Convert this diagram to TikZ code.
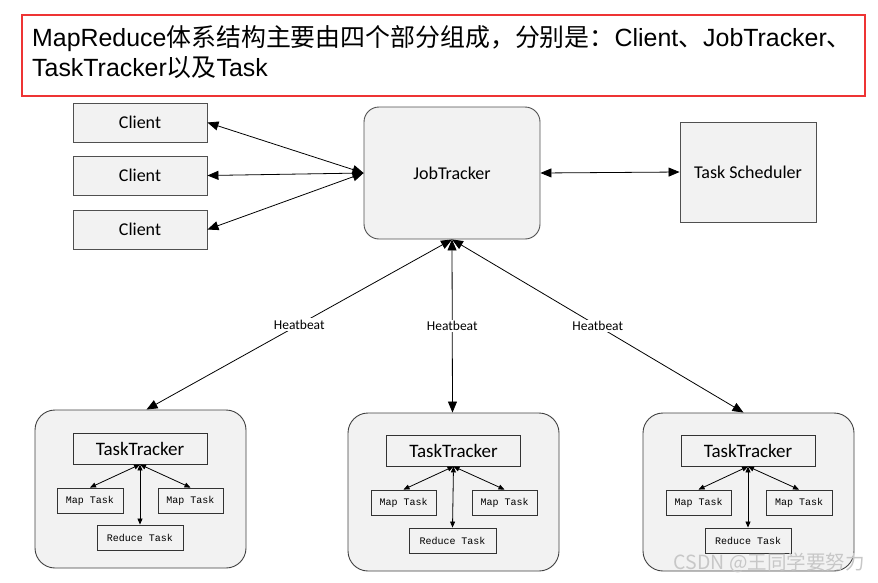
\documentclass[tikz,border=0pt]{standalone}
\usepackage{fontspec}
\setmainfont{Carlito}
\newfontfamily\headfont{Liberation Sans}
\newfontfamily\cjk{Noto Sans CJK SC}
\newfontfamily\taskfont{Liberation Mono}
\usetikzlibrary{arrows.meta}
\definecolor{boxfill}{RGB}{242,242,242}
\definecolor{headred}{RGB}{238,52,52}
\definecolor{edgegray}{RGB}{80,80,80}
\newcommand{\hf}[1]{{\cjk #1}}

\begin{document}
\begin{tikzpicture}[x=1pt,y=-1pt,
  headline/.style={anchor=base west,inner sep=0,font=\headfont\fontsize{24.9}{25}\selectfont},
  plainbox/.style={draw=edgegray,fill=boxfill,inner sep=0,line width=0.9pt,font=\fontsize{18}{18}\selectfont},
  outerbox/.style={draw=black!75,fill=boxfill,rounded corners=20,line width=0.9pt,minimum width=211,minimum height=158},
  trackbox/.style={draw=black!80,fill=boxfill,inner sep=0,line width=0.9pt,minimum width=134,minimum height=31,font=\fontsize{19}{19}\selectfont},
  taskbox/.style={draw=black!80,fill=boxfill,inner sep=0,line width=0.9pt,minimum height=25,font=\taskfont\fontsize{10}{10}\selectfont},
  beat/.style={midway,fill=white,inner sep=1.5,font=\fontsize{13.5}{13.5}\selectfont},
  big/.style={line width=0.8pt,{Triangle[length=11,width=9]}-{Triangle[length=11,width=9]}},
  small/.style={line width=0.8pt,{Triangle[length=6,width=5]}-{Triangle[length=6,width=5]}}]
\useasboundingbox (0,0) rectangle (878,582);
\node(head)[draw=headred,line width=2.2pt,minimum width=843,minimum height=81,inner sep=0] at (443.5,55.5) {};
\node(line1)[headline] at (32,46) {MapReduce\hf{体系结构主要由四个部分组成，分别是：}Client\hf{、}JobTracker\hf{、}};
\node(line2)[headline] at (32,76) {TaskTracker\hf{以及}Task};

\node(c1)[plainbox,minimum width=134,minimum height=39] at (140,122.5) {Client};
\node(c2)[plainbox,minimum width=134,minimum height=39] at (140,175.5) {Client};
\node(c3)[plainbox,minimum width=134,minimum height=39] at (140,229.5) {Client};
\node(jt)[plainbox,rounded corners=15,minimum width=176,minimum height=132] at (452,173) {JobTracker};
\node(ts)[plainbox,minimum width=136,minimum height=100] at (748,172) {Task Scheduler};

\node(o1)[outerbox] at (140.5,489) {};
\node(o2)[outerbox] at (453.5,492) {};
\node(o3)[outerbox] at (748.5,492) {};

\node(tt1)[trackbox] at (140,448.5) {TaskTracker};
\node(m11)[taskbox,minimum width=66] at (90,500.5) {Map Task};
\node(m12)[taskbox,minimum width=65] at (190.5,500.5) {Map Task};
\node(r1)[taskbox,minimum width=86] at (140,537.5) {Reduce Task};

\node(tt2)[trackbox] at (453.5,450.5) {TaskTracker};
\node(m21)[taskbox,minimum width=65] at (403.5,502.5) {Map Task};
\node(m22)[taskbox,minimum width=65] at (504.5,502.5) {Map Task};
\node(r2)[taskbox,minimum width=87] at (452.5,540.5) {Reduce Task};

\node(tt3)[trackbox] at (748,450.5) {TaskTracker};
\node(m31)[taskbox,minimum width=65] at (698.5,502.5) {Map Task};
\node(m32)[taskbox,minimum width=66] at (799,502.5) {Map Task};
\node(r3)[taskbox,minimum width=86] at (748,540.5) {Reduce Task};

\path[big] (c1.east) edge (jt.west);
\path[big] (c2.east) edge (jt.west);
\path[big] (c3.east) edge (jt.west);
\path[big] (jt.east) edge (ts.west);
\path[big] (jt.south) edge node[beat]{Heatbeat} ([xshift=6]o1.north);
\path[big] (jt.south) edge node[beat]{Heatbeat} ([xshift=-1]o2.north);
\path[big] (jt.south) edge node[beat]{Heatbeat} ([xshift=-5]o3.north);

\path[small] (tt1.south) edge (m11.north);
\path[small] (tt1.south) edge (m12.north);
\path[small] (tt1.south) edge (r1.north);
\path[small] (tt2.south) edge (m21.north);
\path[small] (tt2.south) edge (m22.north);
\path[small] (tt2.south) edge (r2.north);
\path[small] (tt3.south) edge (m31.north);
\path[small] (tt3.south) edge (m32.north);
\path[small] (tt3.south) edge (r3.north);

\node(mark)[anchor=base east,inner sep=0,text=black!22,font=\cjk\fontsize{19.5}{19.5}\selectfont] at (865,569) {CSDN @王同学要努力};
\end{tikzpicture}
\end{document}
